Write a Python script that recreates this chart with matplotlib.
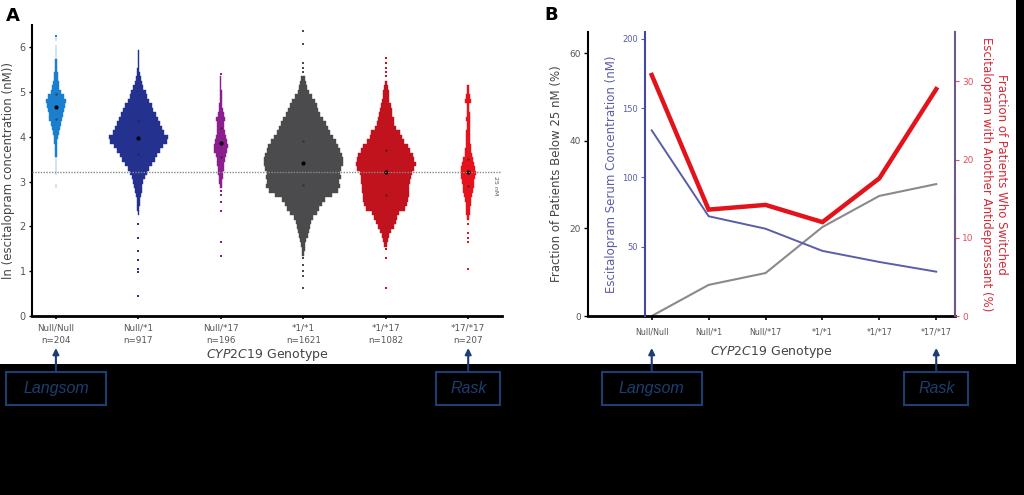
import matplotlib.pyplot as plt
import numpy as np
from matplotlib.patches import Rectangle

# ---- panel A: ln(escitalopram) per genotype, binned dot plots ----
genotypes = ['Null/Null', 'Null/*1', 'Null/*17', '*1/*1', '*1/*17', '*17/*17']
n_patients = [204, 917, 196, 1621, 1082, 207]
group_colors = ['#1b7fcf', '#24318e', '#8c1f8e', '#4b4b4d', '#c0131d', '#e5131b']

bin_width = 0.1
bin_start = [2.9, 2.3, 2.9, 1.4, 1.6, 2.2]
counts_null_null = [1, 0, 0, 1, 1, 1, 1, 2, 2, 3, 4, 6, 9, 12, 15, 18, 20, 22, 24,
                    27, 22, 15, 10, 8, 6, 5, 3, 2, 2, 1, 1, 1, 0, 1]
counts_null_1 = [2, 3, 4, 5, 7, 9, 11, 14, 18, 24, 30, 38, 45, 52, 60, 68, 80, 82,
                 72, 66, 60, 54, 48, 42, 38, 30, 24, 20, 14, 10, 7, 5, 3, 2, 1, 1, 1]
counts_null_17 = [3, 4, 5, 7, 8, 10, 12, 14, 18, 20, 16, 14, 12, 10, 10, 13, 8, 6,
                  4, 3, 2, 2, 1, 1, 1]
counts_1_1 = [3, 4, 6, 8, 12, 15, 18, 21, 26, 38, 45, 52, 60, 80, 96, 103, 100, 104,
              102, 106, 110, 110, 108, 102, 98, 90, 82, 74, 68, 62, 56, 48, 42, 37,
              32, 24, 16, 11, 8, 5]
counts_1_17 = [4, 7, 10, 16, 22, 28, 32, 38, 55, 60, 62, 64, 66, 66, 68, 70, 72, 80,
               83, 80, 76, 68, 62, 52, 45, 40, 30, 24, 22, 18, 17, 14, 10, 9, 8, 6, 3]
counts_17_17 = [3, 5, 6, 7, 8, 11, 14, 15, 17, 19, 21, 20, 17, 14, 10, 8, 7, 6, 5, 5,
                4, 4, 5, 4, 3, 3, 9, 6, 3, 2]
all_counts = [counts_null_null, counts_null_1, counts_null_17,
              counts_1_1, counts_1_17, counts_17_17]

tails = [
    [6.25],
    [2.05, 1.75, 1.45, 1.25, 1.05, 0.98, 0.45],
    [2.8, 2.7, 2.55, 2.35, 1.65, 1.35, 5.4],
    [5.45, 5.55, 5.65, 6.07, 6.36, 1.3, 1.15, 1.0, 0.9, 0.62],
    [5.35, 5.45, 5.55, 5.65, 5.77, 1.5, 1.3, 0.62],
    [2.05, 1.85, 1.75, 1.65, 1.05],
]
means = [4.67, 3.98, 3.87, 3.42, 3.22, 3.22]
quart_low = [4.4, 3.62, 3.55, 2.92, 2.7, 2.9]
quart_high = [4.95, 4.35, 4.2, 3.9, 3.7, 3.5]

# ---- panel B ----
frac_below_25 = [0, 7.1, 9.8, 20.3, 27.4, 30.1]
serum_conc = [134, 72, 63, 47, 39, 32]
frac_switched = [30.8, 13.6, 14.2, 12.0, 17.6, 29.0]

W, H = 1024, 495
fig = plt.figure(figsize=(W / 100, H / 100), dpi=100, facecolor='black')
fig.add_artist(Rectangle((0, 1 - 364 / H), 1016 / W, 364 / H, transform=fig.transFigure,
                         facecolor='white', edgecolor='none', zorder=-5))

def px_axes(left, top, right, bottom):
    return fig.add_axes([left / W, 1 - bottom / H, (right - left) / W, (bottom - top) / H])

tick_grey = '#555555'
label_grey = '#444444'

# ---------------- panel A ----------------
ax = px_axes(32, 25, 502, 316)
ax.set_facecolor('none')
x = np.arange(len(genotypes))
scale = 0.0087
for i, cnt in enumerate(all_counts):
    cnt = np.array(cnt, dtype=float)
    centers = bin_start[i] + bin_width * np.arange(len(cnt))
    widths = cnt * scale
    keep = cnt > 0
    ax.barh(centers[keep], widths[keep], height=0.1, left=i - widths[keep] / 2,
            color=group_colors[i], edgecolor=group_colors[i], linewidth=0.3)
    ax.scatter([i] * len(tails[i]), tails[i], marker='s', s=3, color=group_colors[i],
               linewidths=0)
ax.scatter(x, quart_low, s=3, color='#222222', alpha=0.6, zorder=3, linewidths=0)
ax.scatter(x, quart_high, s=3, color='#222222', alpha=0.6, zorder=3, linewidths=0)
ax.scatter(x, means, s=9, color='black', zorder=4, linewidths=0)
ax.axhline(np.log(25), color='#8a8a8a', ls=(0, (1, 1)), lw=1, zorder=5)
ax.text(5.33, np.log(25) - 0.1, '25 nM', rotation=270, fontsize=4.5, color=tick_grey,
        ha='center', va='top')

ax.set_xlim(-0.29, 5.41)
ax.set_ylim(0, 6.5)
ax.set_xticks(x)
ax.set_xticklabels([f'{g}\nn={n}' for g, n in zip(genotypes, n_patients)],
                   fontsize=6.3, color=tick_grey, linespacing=1.5)
ax.set_yticks(range(7))
ax.tick_params(axis='y', labelsize=7, labelcolor=tick_grey, length=2.5, width=1, pad=2)
ax.tick_params(axis='x', length=2.5, width=1.2, pad=3)
for s in ['top', 'right']:
    ax.spines[s].set_visible(False)
ax.spines['left'].set_linewidth(1.5)
ax.spines['bottom'].set_linewidth(2)
ax.set_ylabel('ln (escitalopram concentration (nM))', fontsize=8.5, color=label_grey,
              labelpad=3)
ax.set_xlabel(r'$\it{CYP2C19}$ Genotype', fontsize=9, color=label_grey, labelpad=1)

# ---------------- panel B ----------------
axb = px_axes(588, 32, 955, 316)
axb.set_facecolor('none')
axb.plot(x, frac_below_25, color='#8a8a8a', lw=1.5)
axb.set_xlim(-1.12, 5.33)
axb.set_ylim(0, 64.8)
axb.set_xticks(x)
axb.set_xticklabels(genotypes, fontsize=5.8, color=tick_grey)
axb.set_yticks([0, 20, 40, 60])
axb.tick_params(axis='y', labelsize=6.5, labelcolor=tick_grey, length=3, width=1, pad=2)
axb.tick_params(axis='x', length=3, width=1.2, pad=5)
for s in ['top', 'right']:
    axb.spines[s].set_visible(False)
axb.spines['left'].set_linewidth(1.5)
axb.spines['bottom'].set_linewidth(2)
axb.set_ylabel('Fraction of Patients Below 25 nM (%)', fontsize=8.5, color=label_grey,
               labelpad=5)
axb.set_xlabel(r'$\it{CYP2C19}$ Genotype', fontsize=9, color=label_grey, labelpad=6)

blue = '#5a5da8'
axc = axb.twinx()
axc.plot(x, serum_conc, color=blue, lw=1.4)
axc.set_ylim(0, 205)
axc.set_yticks([50, 100, 150, 200])
axc.yaxis.tick_left()
axc.yaxis.set_label_position('left')
for s in ['top', 'right', 'bottom']:
    axc.spines[s].set_visible(False)
axc.spines['left'].set_visible(True)
axc.spines['left'].set_position(('data', -0.12))
axc.spines['left'].set_color('#4548a0')
axc.spines['left'].set_linewidth(1.5)
axc.tick_params(axis='y', labelsize=6, labelcolor=blue, color=blue, length=3, pad=2)
axc.set_ylabel('Escitalopram Serum Concentration (nM)', fontsize=8.5, color=blue,
               labelpad=3)

red = '#e3131b'
axd = axb.twinx()
axd.plot(x, frac_switched, color=red, lw=3.2, solid_joinstyle='miter')
axd.set_ylim(0, 36.3)
axd.set_yticks([0, 10, 20, 30])
for s in ['top', 'left', 'bottom']:
    axd.spines[s].set_visible(False)
axd.spines['right'].set_color('#6a5a88')
axd.spines['right'].set_linewidth(1.5)
axd.plot([1, 1], [0, 0.42], transform=axd.transAxes, color='#d8222e', lw=1.5,
         clip_on=False)
axd.tick_params(axis='y', labelsize=6.5, labelcolor='#e0505c', color='#e0505c',
                length=3, pad=2)
axd.set_ylabel('Fraction of Patients Who Switched\nEscitalopram with Another Antidepressant (%)',
               fontsize=8.5, color='#d42a38', rotation=270, labelpad=25, linespacing=1.2)

fig.text(13 / W, 1 - 16 / H, 'A', fontsize=13, fontweight='bold', ha='center', va='center')
fig.text(551 / W, 1 - 15 / H, 'B', fontsize=13, fontweight='bold', ha='center', va='center')

# ---- speed boxes ----
navy = '#1d3e70'
fig.canvas.draw()

def speed_box(axis, idx, label, width_px):
    xc = axis.transData.transform((idx, 0))[0]
    fig.add_artist(Rectangle(((xc - width_px / 2) / W, 90 / H), width_px / W, 33 / H,
                             transform=fig.transFigure, facecolor='none',
                             edgecolor=navy, lw=1.5))
    fig.text(xc / W, 106.5 / H, label, fontsize=11.5, style='italic', color=navy,
             family='Liberation Sans', ha='center', va='center')
    axis.annotate('', xy=(xc / W, 147 / H), xytext=(xc / W, 123 / H),
                  xycoords='figure fraction', textcoords='figure fraction',
                  arrowprops=dict(arrowstyle='-|>', color=navy, lw=1.5,
                                  mutation_scale=9, shrinkA=0, shrinkB=0),
                  annotation_clip=False)

speed_box(ax, 0, 'Langsom', 100)
speed_box(ax, 5, 'Rask', 64)
speed_box(axb, 0, 'Langsom', 100)
speed_box(axb, 5, 'Rask', 64)

fig.savefig('out.png', dpi=100, facecolor='black')
